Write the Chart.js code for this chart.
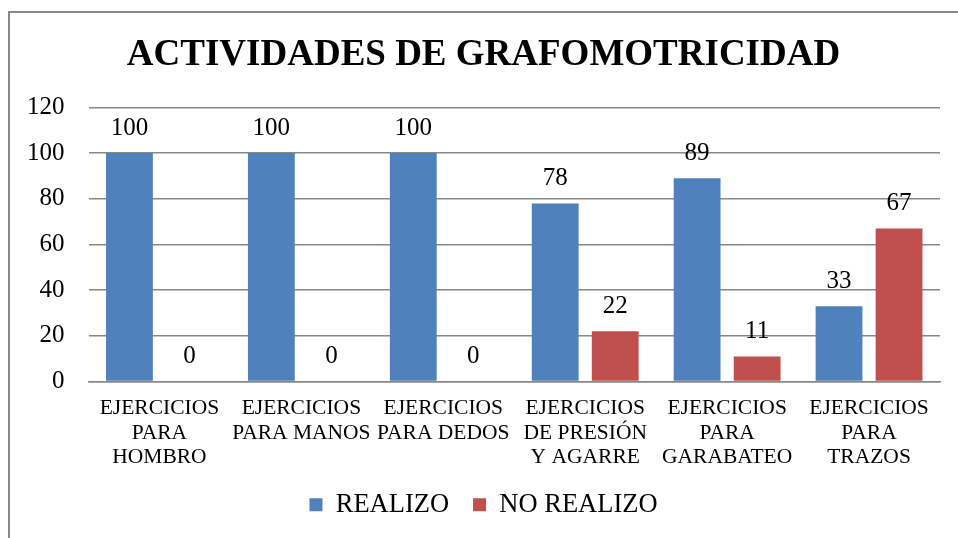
<!DOCTYPE html>
<html>
<head>
<meta charset="utf-8">
<script src="https://cdn.jsdelivr.net/npm/chart.js@4.4.1/dist/chart.umd.min.js"></script>
<style>
  html, body { margin: 0; padding: 0; background: #ffffff; overflow: hidden; width: 958px; height: 538px; }
  #wrap { position: absolute; left: 8px; top: 11px; width: 963px; height: 527px;
          border-top: 2px solid #888888; border-left: 2px solid #888888; box-sizing: border-box; }
  #box { position: absolute; left: 0; top: 0; width: 961px; height: 525px; }
</style>
</head>
<body>
<div id="wrap"><div id="box"><canvas id="c"></canvas></div></div>
<script>
const chartTitle = "ACTIVIDADES DE GRAFOMOTRICIDAD";
const categories = [
  ["EJERCICIOS", "PARA", "HOMBRO"],
  ["EJERCICIOS", "PARA MANOS"],
  ["EJERCICIOS", "PARA DEDOS"],
  ["EJERCICIOS", "DE PRESIÓN", "Y AGARRE"],
  ["EJERCICIOS", "PARA", "GARABATEO"],
  ["EJERCICIOS", "PARA", "TRAZOS"]
];
const seriesNames = ["REALIZO", "NO REALIZO"];
const realizo = [100, 100, 100, 78, 89, 33];
const noRealizo = [0, 0, 0, 22, 11, 67];
const yTicks = [0, 20, 40, 60, 80, 100, 120];

const SERIF = "'Liberation Serif', 'Times New Roman', serif";

const valueLabels = {
  id: 'valueLabels',
  afterDatasetsDraw(chart) {
    const ctx = chart.ctx;
    ctx.save();
    ctx.font = "25px " + SERIF;
    ctx.fillStyle = "#000000";
    ctx.textAlign = "center";
    ctx.textBaseline = "middle";
    chart.data.datasets.forEach((ds, i) => {
      const meta = chart.getDatasetMeta(i);
      meta.data.forEach((el, j) => {
        ctx.fillText(String(ds.data[j]), el.x, el.y - 25);
      });
    });
    ctx.restore();
  }
};

new Chart(document.getElementById('c'), {
  type: 'bar',
  data: {
    labels: categories,
    datasets: [
      { label: seriesNames[0], data: realizo, backgroundColor: '#4F81BD',
        categoryPercentage: 0.846, barPercentage: 0.78 },
      { label: seriesNames[1], data: noRealizo, backgroundColor: '#C0504D',
        categoryPercentage: 0.846, barPercentage: 0.78 }
    ]
  },
  options: {
    responsive: true,
    maintainAspectRatio: false,
    animation: false,
    layout: { padding: { left: 17, right: 31, top: 0, bottom: 10 } },
    plugins: {
      title: {
        display: true, text: chartTitle, color: '#000000',
        font: { family: SERIF, size: 37, weight: 'bold', lineHeight: 1.2 },
        padding: { top: 20, bottom: 30 }
      },
      legend: {
        position: 'bottom',
        labels: {
          color: '#000000', boxWidth: 13, boxHeight: 13, padding: 24,
          font: { family: SERIF, size: 26.5 }
        }
      },
      tooltip: { enabled: false }
    },
    scales: {
      x: {
        grid: { display: false, drawTicks: false },
        border: { display: true, color: '#888888', width: 1.5 },
        afterFit: (s) => { s.height -= 17; },
        ticks: { color: '#000000', padding: 15, maxRotation: 0, autoSkip: false,
                 font: { family: SERIF, size: 21.5, lineHeight: 1.13 } }
      },
      y: {
        min: 0, max: 120,
        afterBuildTicks: (axis) => { axis.ticks = yTicks.map(v => ({ value: v })); },
        afterFit: (s) => { s.width -= 24; },
        grid: { color: '#888888', lineWidth: 1.5, drawTicks: false },
        border: { display: false },
        ticks: { color: '#000000', padding: 24, font: { family: SERIF, size: 25 } }
      }
    }
  },
  plugins: [valueLabels]
});
</script>
</body>
</html>
